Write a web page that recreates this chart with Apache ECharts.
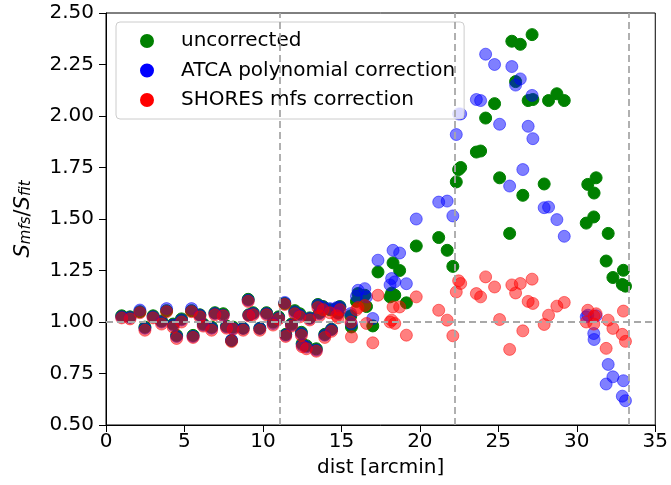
<!DOCTYPE html>
<html><head><meta charset="utf-8">
<script src="https://cdn.jsdelivr.net/npm/echarts@6/dist/echarts.min.js"></script>
<style>html,body{margin:0;padding:0;background:#fff}#c{width:671px;height:485px}</style>
</head><body><div id="c"></div>
<script>
// distance of each source [arcmin]
const dist = [
  1.0, 1.53, 2.16, 2.48, 3.0, 3.54, 3.86, 4.28, 4.5, 4.81,
  5.45, 5.55, 5.98, 6.2, 6.73, 6.94, 7.47, 7.68, 8.0, 8.1,
  8.74, 9.06, 9.1, 9.38, 9.8, 10.23, 10.65, 11.0, 11.39, 11.45,
  11.82, 12.03, 12.35, 12.45, 12.5, 12.77, 12.98, 13.4, 13.5, 13.6,
  13.83, 13.94, 14.26, 14.37, 14.7, 14.79, 14.9, 15.6, 15.64, 15.96,
  16.06, 16.49, 16.6, 17.0, 17.33, 18.1, 18.2, 18.29, 18.4, 18.71,
  19.14, 19.77, 21.2, 21.74, 22.1, 22.32, 22.47, 22.6, 23.6, 23.87,
  24.19, 24.76, 25.08, 25.72, 25.86, 26.1, 26.4, 26.56, 26.9, 27.15,
  27.2, 27.92, 28.2, 28.73, 29.2, 30.6, 30.7, 31.08, 31.1, 31.23,
  31.87, 32.0, 32.3, 32.97, 32.9, 33.1
];
const uncorrected = [
  1.03, 1.025, 1.05, 0.975, 1.03, 1.005, 1.055, 0.99, 0.935, 1.015,
  1.055, 0.935, 1.035, 0.99, 0.975, 1.045, 1.04, 0.98, 0.91, 0.975,
  0.97, 1.11, 1.035, 1.045, 0.97, 1.045, 1.0, 1.025, 1.09, 0.94,
  0.99, 1.055, 1.04, 0.95, 0.895, 0.885, 1.02, 0.87, 1.085, 1.045,
  1.075, 0.94, 1.06, 0.965, 1.065, 1.045, 1.075, 1.03, 0.976, 1.10,
  1.138, 1.13, 1.075, 0.981, 1.243, 1.122, 1.14, 1.287, 1.13, 1.25,
  1.093, 1.369, 1.41, 1.348, 1.27, 1.68, 1.74, 1.75, 1.825, 1.83,
  1.99, 2.06, 1.70, 1.43, 2.363, 2.167, 2.348, 1.615, 2.075, 2.395,
  2.08, 1.67, 2.075, 2.108, 2.075, 1.48, 1.668, 1.51, 1.626, 1.70,
  1.296, 1.43, 1.216, 1.251, 1.182, 1.174
];
const atcaPoly = [
  1.025, 1.022, 1.058, 0.97, 1.025, 1.0, 1.065, 0.985, 0.93, 1.01,
  1.065, 0.93, 1.033, 0.985, 0.97, 1.041, 1.033, 0.976, 0.912, 0.969,
  0.969, 1.106, 1.033, 1.041, 0.969, 1.041, 0.993, 1.02, 1.095, 0.936,
  0.985, 1.049, 1.033, 0.944, 0.888, 0.879, 1.017, 0.864, 1.082, 1.04,
  1.073, 0.936, 1.065, 0.963, 1.07, 1.041, 1.073, 1.041, 0.99, 1.125,
  1.154, 1.162, 1.122, 1.017, 1.30, 1.18, 1.211, 1.348, 1.195, 1.335,
  1.186, 1.50, 1.582, 1.587, 1.515, 1.91, 2.01, 2.01, 2.08, 2.075,
  2.30, 2.25, 1.96, 1.66, 2.24, 2.15, 2.18, 1.74, 1.95, 2.10,
  1.89, 1.555, 1.558, 1.497, 1.416, 1.025, 1.033, 0.944, 0.915, 1.03,
  0.699, 0.794, 0.734, 0.715, 0.64, 0.618
];
const shoresMfs = [
  1.02, 1.015, 1.045, 0.96, 1.02, 0.99, 1.05, 0.975, 0.92, 1.0,
  1.05, 0.925, 1.025, 0.98, 0.96, 1.035, 1.03, 0.97, 0.905, 0.965,
  0.96, 1.1, 1.03, 1.035, 0.96, 1.035, 0.985, 1.015, 1.085, 0.93,
  0.98, 1.04, 1.025, 0.935, 0.88, 0.87, 1.01, 0.858, 1.07, 1.03,
  1.06, 0.925, 1.045, 0.955, 1.03, 1.02, 1.06, 1.0, 0.928, 1.06,
  1.07, 1.08, 0.993, 0.899, 1.13, 1.0, 1.009, 1.073, 0.993, 1.073,
  0.936, 1.122, 1.057, 1.009, 0.933, 1.146, 1.20, 1.187, 1.138, 1.122,
  1.219, 1.17, 1.012, 0.867, 1.18, 1.141, 1.187, 0.957, 1.10, 1.208,
  1.09, 0.988, 1.033, 1.077, 1.095, 1.00, 1.057, 0.99, 1.028, 1.04,
  0.872, 1.009, 0.969, 1.053, 0.94, 0.906
];
const xTicks = [0, 5, 10, 15, 20, 25, 30, 35];
const yTicks = [0.5, 0.75, 1.0, 1.25, 1.5, 1.75, 2.0, 2.25, 2.5];
const refLinesX = [11.1, 22.2, 33.3];
const refLineY = [1.0];
const seriesNames = ['uncorrected', 'ATCA polynomial correction', 'SHORES mfs correction'];

const pairs = v => dist.map((d, i) => [d, v[i]]);
const FONT = 'DejaVu Sans';
const chart = echarts.init(document.getElementById('c'), null, {renderer: 'canvas'});
const mk = (name, vals, color, op) => ({
  name, type: 'scatter', data: pairs(vals), symbolSize: 12,
  itemStyle: {color, opacity: op, borderColor: color, borderWidth: 1},
  emphasis: {disabled: true}, animation: false
});
const s3 = mk(seriesNames[2], shoresMfs, '#ff0000', 0.5);
s3.markLine = {
  silent: true, symbol: 'none', label: {show: false}, animation: false,
  lineStyle: {color: '#a8a8a8', type: [7, 4], width: 1.8},
  data: refLinesX.map(x => ({xAxis: x})).concat(refLineY.map(y => ({yAxis: y})))
};
chart.setOption({
  animation: false,
  textStyle: {fontFamily: FONT},
  grid: {left: 106, right: 15, top: 13, bottom: 60, containLabel: false,
         show: true, borderColor: '#000', borderWidth: 1, backgroundColor: 'transparent'},
  xAxis: {
    type: 'value', min: xTicks[0], max: xTicks[xTicks.length - 1], interval: 5,
    name: 'dist [arcmin]', nameLocation: 'middle', nameGap: 33,
    nameTextStyle: {fontSize: 20, color: '#000', fontFamily: FONT},
    axisLine: {onZero: false, lineStyle: {color: '#000', width: 1}},
    axisTick: {show: true, length: 7, lineStyle: {color: '#000'}},
    axisLabel: {fontSize: 20, color: '#000', margin: 7, fontFamily: FONT},
    splitLine: {show: false}
  },
  yAxis: {
    type: 'value', min: yTicks[0], max: yTicks[yTicks.length - 1], interval: 0.25,
    name: '{s|S}{sub|mfs}{n|/}{s|S}{sub|fit}', nameLocation: 'middle', nameGap: 72, nameRotate: 90,
    nameTextStyle: {
      fontFamily: FONT, color: '#000',
      rich: {
        s: {fontSize: 21, fontStyle: 'italic', fontFamily: FONT, color: '#000', verticalAlign: 'bottom', lineHeight: 26},
        n: {fontSize: 21, fontFamily: FONT, color: '#000', verticalAlign: 'bottom', lineHeight: 26},
        sub: {fontSize: 15, fontStyle: 'italic', fontFamily: FONT, color: '#000', verticalAlign: 'bottom', lineHeight: 19}
      }
    },
    axisLine: {show: true, onZero: false, lineStyle: {color: '#000', width: 1}},
    axisTick: {show: true, length: 7, lineStyle: {color: '#000'}},
    axisLabel: {fontSize: 20, color: '#000', margin: 12, fontFamily: FONT, formatter: v => v.toFixed(2)},
    splitLine: {show: false}
  },
  legend: {
    orient: 'vertical', left: 116, top: 22,
    padding: [9, 9, 9, 24],
    itemWidth: 12, itemHeight: 12, itemGap: 9.5,
    icon: 'circle',
    backgroundColor: 'rgba(255,255,255,0.8)', borderColor: '#cccccc', borderWidth: 1, borderRadius: 4,
    textStyle: {fontSize: 20, color: '#000', fontFamily: FONT, padding: [0, 0, 0, 23], lineHeight: 20},
    data: [
      {name: seriesNames[0], itemStyle: {color: '#008000', opacity: 1}},
      {name: seriesNames[1], itemStyle: {color: '#0000ff', opacity: 1}},
      {name: seriesNames[2], itemStyle: {color: '#ff0000', opacity: 1}}
    ]
  },
  series: [
    mk(seriesNames[0], uncorrected, '#008000', 1),
    mk(seriesNames[1], atcaPoly, '#0000ff', 0.5),
    s3
  ]
});
</script>
</body></html>
